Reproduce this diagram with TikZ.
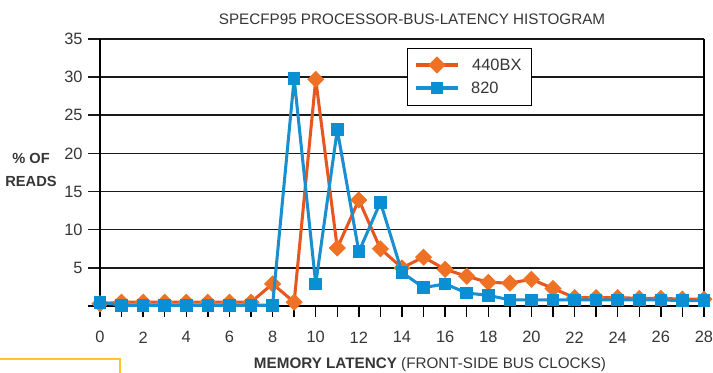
\documentclass[tikz,border=0pt]{standalone}
\usepackage{fontspec}
\setmainfont{Liberation Sans}
\usepackage{tikz}
\usetikzlibrary{shapes.geometric}

\definecolor{bxline}{HTML}{E8561F}
\definecolor{bxmark}{HTML}{EF7224}
\definecolor{ntline}{HTML}{1A8FD0}
\definecolor{ntmark}{HTML}{0A8ED4}
\definecolor{inkgray}{HTML}{363636}
\definecolor{tabyellow}{HTML}{FFC425}

\tikzset{
  gridline/.style={line width=1.3pt, black!90},
  axisline/.style={line width=1.3pt, black},
  ticklabel/.style={font=\fontsize{14}{16}\selectfont, text=inkgray, inner sep=0pt},
  bxmarker/.style={diamond, aspect=1, fill=bxmark, minimum size=0.52cm, inner sep=0pt},
  ntmarker/.style={rectangle, fill=ntmark, minimum size=0.38cm, inner sep=0pt},
  bxcurve/.style={line width=2.6pt, bxline, line join=round},
  ntcurve/.style={line width=2.6pt, ntline, line join=round},
}

\begin{document}
\begin{tikzpicture}[x=0.03cm, y=0.03cm]

  \useasboundingbox (0,0) rectangle (713,373);

  % Title
  \node[font=\fontsize{13}{15}\selectfont, text=inkgray] (title) at (412,354)
    {SPECFP95 PROCESSOR-BUS-LATENCY HISTOGRAM};

  % Axis titles
  \node[font=\fontsize{12.5}{20}\selectfont\bfseries, text=inkgray, align=center] (ytitle)
    at (31,203) {\% OF\\READS};
  \node[font=\fontsize{13}{15}\selectfont, text=inkgray] (xtitle) at (430,8)
    {\textbf{MEMORY LATENCY} (FRONT-SIDE BUS CLOCKS)};

  % Yellow tab at the corner
  \draw[tabyellow, line width=1.6pt] (0,14) -- (120,14) -- (120,0);

  \begin{scope}[shift={(100,67)}, x=0.6471cm, y=0.2289cm]

    % Grid and axes
    \foreach \v in {5,10,...,35} {
      \draw[gridline] (-0.55,\v) -- (28,\v);
      \node[ticklabel, anchor=east] at (-0.8,\v) {\v};
    }
    \draw[axisline] (-0.55,0) -- (28,0);
    \draw[axisline] (0,0) -- (0,35);
    \draw[axisline] (28,0) -- (28,35);
    \foreach \i in {0,...,28}
      \draw[axisline] (\i,0) -- (\i,-1.4);
    \foreach \i in {0,2,...,28}
      \node[ticklabel] at (\i,-4.1) {\i};

    % 440BX
    \draw[bxcurve] plot coordinates {
      (0,0.3) (1,0.5) (2,0.5) (3,0.5) (4,0.5) (5,0.5) (6,0.5) (7,0.5)
      (8,2.9) (9,0.5) (10,29.7) (11,7.6) (12,13.9) (13,7.5) (14,5.0)
      (15,6.4) (16,4.8) (17,3.9) (18,3.1) (19,3.0) (20,3.5) (21,2.3)
      (22,1.1) (23,1.1) (24,1.1) (25,1.0) (26,1.0) (27,0.9) (28,0.9)};
    \foreach \i/\v in {0/0.3,1/0.5,2/0.5,3/0.5,4/0.5,5/0.5,6/0.5,7/0.5,
      8/2.9,9/0.5,10/29.7,11/7.6,12/13.9,13/7.5,14/5.0,15/6.4,16/4.8,
      17/3.9,18/3.1,19/3.0,20/3.5,21/2.3,22/1.1,23/1.1,24/1.1,25/1.0,
      26/1.0,27/0.9,28/0.9}
      \node[bxmarker] (bx\i) at (\i,\v) {};

    % 820
    \draw[ntcurve] plot coordinates {
      (0,0.5) (1,0.1) (2,0.1) (3,0.1) (4,0.1) (5,0.1) (6,0.1) (7,0.1)
      (8,0.1) (9,29.8) (10,2.9) (11,23.1) (12,7.1) (13,13.6) (14,4.4)
      (15,2.4) (16,2.9) (17,1.7) (18,1.4) (19,0.8) (20,0.8) (21,0.8)
      (22,0.8) (23,0.8) (24,0.8) (25,0.8) (26,0.8) (27,0.7) (28,0.7)};
    \foreach \i/\v in {0/0.5,1/0.1,2/0.1,3/0.1,4/0.1,5/0.1,6/0.1,7/0.1,
      8/0.1,9/29.8,10/2.9,11/23.1,12/7.1,13/13.6,14/4.4,15/2.4,16/2.9,
      17/1.7,18/1.4,19/0.8,20/0.8,21/0.8,22/0.8,23/0.8,24/0.8,25/0.8,
      26/0.8,27/0.7,28/0.7}
      \node[ntmarker] (nt\i) at (\i,\v) {};

  \end{scope}

  % Legend
  \node[draw, line width=1.2pt, fill=white, minimum width=124*0.03cm,
    minimum height=57*0.03cm, anchor=north west] (legend) at (407,325) {};
  \coordinate (bxa) at (416,308);
  \coordinate (bxb) at (458,308);
  \draw[bxcurve] (bxa) -- (bxb);
  \node[bxmarker] (bxkey) at (437,308) {};
  \node[ticklabel, anchor=west] (bxtext) at (472,308) {440BX};
  \coordinate (nta) at (416,285);
  \coordinate (ntb) at (458,285);
  \draw[ntcurve] (nta) -- (ntb);
  \node[ntmarker] (ntkey) at (437,285) {};
  \node[ticklabel, anchor=west] (nttext) at (471,285) {820};

\end{tikzpicture}
\end{document}
